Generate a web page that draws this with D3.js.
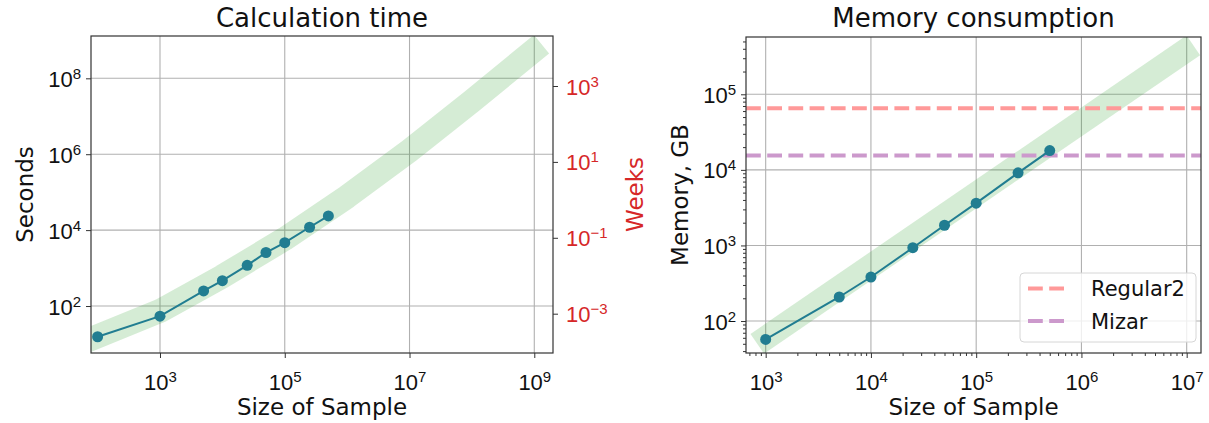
<!DOCTYPE html>
<html>
<head>
<meta charset="utf-8">
<script src="https://cdn.jsdelivr.net/npm/d3@7"></script>
<style>
  html, body { margin: 0; padding: 0; background: #fff; }
  svg { display: block; font-family: "DejaVu Sans", sans-serif; }
</style>
</head>
<body>
<svg id="chart" width="1209" height="423" viewBox="0 0 1209 423"></svg>
<script>
// ---- data ----
// calculation time (seconds) vs sample size
const calcSizes = [100, 1000, 5000, 10000, 25000, 50000, 100000, 250000, 500000];
const calcSeconds = [15.5, 54, 249, 465, 1180, 2570, 4660, 11900, 23700];
// green trend band for calculation time
const calcFitSizes = [50, 1e3, 1e4, 1e5, 1e6, 1e7, 1e8, 1.306e9];
const calcFitSeconds = [10, 74, 603, 5890, 75900, 1.245e6, 2.51e7, 7.94e8];

// memory consumption (GB) vs sample size
const memSizes = [1000, 5000, 10000, 25000, 50000, 100000, 250000, 500000];
const memGB = [57, 208, 382, 933, 1850, 3630, 9130, 18000];
// green trend band for memory
const memFitSizes = [832, 1.156e7];
const memFitGB = [50, 4.45e5];

// machine limits (GB)
const limitNames = ["Regular2", "Mizar"];
const limitValues = [65300, 15450];
const limitColors = ["#ff9999", "#cc99cc"];

// tick exponents
const calcXTicks = [3, 5, 7, 9];
const calcYTicks = [2, 4, 6, 8];
const weekTicks = [-3, -1, 1, 3];
const memXTicks = [3, 4, 5, 6, 7];
const memYTicks = [2, 3, 4, 5];

const svg = d3.select("#chart");
const lineColor = "#217d91";
const bandColor = "#2ca02c";
const frameColor = "#333";
const gridColor = "#b0b0b0";

// write "10^e" label with a superscript
function powLabel(text, e) {
    text.text(null);
    text.append("tspan").text("10");
    text.append("tspan")
        .attr("dy", -8)
        .attr("font-size", 15)
        .text(e < 0 ? "\u2212" + (-e) : String(e));
}

function minorValues(scale) {
    const [lo, hi] = scale.domain();
    const out = [];
    for (let p = Math.floor(Math.log10(lo)); p <= Math.ceil(Math.log10(hi)); p++) {
        for (let m = 2; m <= 9; m++) {
            const v = m * Math.pow(10, p);
            if (v >= lo && v <= hi) out.push(v);
        }
    }
    return out;
}

function drawPanel(cfg) {
    const { x, y, id } = cfg;
    const [x0, x1] = x.range();
    const [y1, y0] = y.range();
    const g = svg.append("g");

    g.append("clipPath").attr("id", id)
        .append("rect")
        .attr("x", x0).attr("y", y0)
        .attr("width", x1 - x0).attr("height", y1 - y0);

    // Grid
    g.append("g").selectAll("line")
        .data(cfg.xTicks.map(e => Math.pow(10, e)))
        .join("line")
        .attr("x1", d => x(d)).attr("x2", d => x(d))
        .attr("y1", y0).attr("y2", y1)
        .attr("stroke", gridColor).attr("stroke-width", 1.1);
    g.append("g").selectAll("line")
        .data(cfg.yTicks.map(e => Math.pow(10, e)))
        .join("line")
        .attr("x1", x0).attr("x2", x1)
        .attr("y1", d => y(d)).attr("y2", d => y(d))
        .attr("stroke", gridColor).attr("stroke-width", 1.1);

    const plot = g.append("g").attr("clip-path", `url(#${id})`);

    // Green band
    const band = cfg.bandX.map((v, i) => [v, cfg.bandY[i]]);
    plot.append("path")
        .attr("d", d3.line().x(d => x(d[0])).y(d => y(d[1]))(band))
        .attr("fill", "none")
        .attr("stroke", bandColor)
        .attr("stroke-opacity", 0.2)
        .attr("stroke-width", 24)
        .attr("stroke-linejoin", "round")
        .attr("stroke-linecap", "butt");

    // Horizontal limit lines
    if (cfg.limits) {
        plot.selectAll(".limit")
            .data(limitValues)
            .join("line")
            .attr("class", "limit")
            .attr("x1", x0).attr("x2", x1)
            .attr("y1", d => y(d)).attr("y2", d => y(d))
            .attr("stroke", (d, i) => limitColors[i])
            .attr("stroke-width", 4)
            .attr("stroke-dasharray", "14.8 6.4");
    }

    // Measured series
    const pts = cfg.dataX.map((v, i) => [v, cfg.dataY[i]]);
    plot.append("path")
        .attr("d", d3.line().x(d => x(d[0])).y(d => y(d[1]))(pts))
        .attr("fill", "none")
        .attr("stroke", lineColor)
        .attr("stroke-width", 2);
    plot.selectAll(".pt")
        .data(pts)
        .join("circle")
        .attr("class", "pt")
        .attr("cx", d => x(d[0])).attr("cy", d => y(d[1]))
        .attr("r", 5.5)
        .attr("fill", lineColor);

    // Axes
    const xAxis = g.append("g").attr("transform", `translate(0,${y1})`)
        .call(d3.axisBottom(x).tickValues(cfg.xTicks.map(e => Math.pow(10, e)))
            .tickSize(5).tickFormat(() => ""));
    const yAxis = g.append("g").attr("transform", `translate(${x0},0)`)
        .call(d3.axisLeft(y).tickValues(cfg.yTicks.map(e => Math.pow(10, e)))
            .tickSize(5).tickFormat(() => ""));
    if (cfg.minor) {
        g.append("g").attr("transform", `translate(0,${y1})`)
            .call(d3.axisBottom(x).tickValues(minorValues(x)).tickSize(3).tickFormat(() => ""))
            .call(a => a.select(".domain").remove());
        g.append("g").attr("transform", `translate(${x0},0)`)
            .call(d3.axisLeft(y).tickValues(minorValues(y)).tickSize(3).tickFormat(() => ""))
            .call(a => a.select(".domain").remove());
    }
    g.selectAll(".tick line").attr("stroke", frameColor).attr("stroke-width", 1);
    g.selectAll(".domain").remove();

    xAxis.selectAll(".tick").append("text")
        .attr("y", 37).attr("x", 0)
        .attr("text-anchor", "middle")
        .attr("font-size", 22).attr("fill", "#111")
        .each(function(d) { powLabel(d3.select(this), Math.round(Math.log10(d))); });
    yAxis.selectAll(".tick").append("text")
        .attr("x", -10).attr("y", 8)
        .attr("text-anchor", "end")
        .attr("font-size", 22).attr("fill", "#111")
        .each(function(d) { powLabel(d3.select(this), Math.round(Math.log10(d))); });

    // Twin axis on the right (weeks)
    if (cfg.twin) {
        const yw = cfg.twin;
        const wAxis = g.append("g").attr("transform", `translate(${x1},0)`)
            .call(d3.axisRight(yw).tickValues(weekTicks.map(e => Math.pow(10, e)))
                .tickSize(5).tickFormat(() => ""));
        wAxis.select(".domain").remove();
        wAxis.selectAll(".tick line").attr("stroke", frameColor);
        wAxis.selectAll(".tick").append("text")
            .attr("x", 13).attr("y", 8)
            .attr("text-anchor", "start")
            .attr("font-size", 22).attr("fill", "#d62728")
            .each(function(d) { powLabel(d3.select(this), Math.round(Math.log10(d))); });
        g.append("text")
            .attr("transform", `translate(643,${(y0 + y1) / 2}) rotate(-90)`)
            .attr("text-anchor", "middle")
            .attr("font-size", 23).attr("fill", "#d62728")
            .text("Weeks");
    }

    // Frame
    g.append("rect")
        .attr("x", x0).attr("y", y0)
        .attr("width", x1 - x0).attr("height", y1 - y0)
        .attr("fill", "none")
        .attr("stroke", frameColor).attr("stroke-width", 1.2);

    // Titles and labels
    const cx = (x0 + x1) / 2;
    g.append("text")
        .attr("x", cx).attr("y", 27)
        .attr("text-anchor", "middle")
        .attr("font-size", 26).attr("fill", "#111")
        .text(cfg.title);
    g.append("text")
        .attr("x", cx).attr("y", 415)
        .attr("text-anchor", "middle")
        .attr("font-size", 23).attr("fill", "#111")
        .text("Size of Sample");
    g.append("text")
        .attr("transform", `translate(${cfg.yLabelX},${(y0 + y1) / 2}) rotate(-90)`)
        .attr("text-anchor", "middle")
        .attr("font-size", 23).attr("fill", "#111")
        .text(cfg.yLabel);

    // Legend
    if (cfg.limits) {
        const lg = g.append("g");
        lg.append("rect")
            .attr("x", 1020).attr("y", 273)
            .attr("width", 176).attr("height", 69)
            .attr("rx", 4)
            .attr("fill", "#fff").attr("fill-opacity", 0.8)
            .attr("stroke", "#d6d6d6");
        limitNames.forEach((name, i) => {
            const ly = 288.5 + i * 32.5;
            lg.append("line")
                .attr("x1", 1028).attr("x2", 1070)
                .attr("y1", ly).attr("y2", ly)
                .attr("stroke", limitColors[i])
                .attr("stroke-width", 4)
                .attr("stroke-dasharray", "14.8 6.4");
            lg.append("text")
                .attr("x", 1091).attr("y", ly + 7.5)
                .attr("font-size", 21).attr("fill", "#111")
                .text(name);
        });
    }
}

// Left panel: calculation time
drawPanel({
    id: "clipCalc",
    title: "Calculation time",
    yLabel: "Seconds",
    yLabelX: 33,
    x: d3.scaleLog().domain([Math.pow(10, 1.894), Math.pow(10, 9.30)]).range([91, 553]),
    y: d3.scaleLog().domain([Math.pow(10, 0.762), Math.pow(10, 9.115)]).range([353, 36]),
    twin: d3.scaleLog().domain([Math.pow(10, -4.036), Math.pow(10, 4.318)]).range([353, 36]),
    xTicks: calcXTicks,
    yTicks: calcYTicks,
    dataX: calcSizes, dataY: calcSeconds,
    bandX: calcFitSizes, bandY: calcFitSeconds,
    minor: false,
    limits: false
});

// Right panel: memory consumption
drawPanel({
    id: "clipMem",
    title: "Memory consumption",
    yLabel: "Memory, GB",
    yLabelX: 688,
    x: d3.scaleLog().domain([Math.pow(10, 2.813), Math.pow(10, 7.136)]).range([746, 1201]),
    y: d3.scaleLog().domain([Math.pow(10, 1.577), Math.pow(10, 5.758)]).range([353, 37]),
    xTicks: memXTicks,
    yTicks: memYTicks,
    dataX: memSizes, dataY: memGB,
    bandX: memFitSizes, bandY: memFitGB,
    minor: true,
    limits: true
});
</script>
</body>
</html>
